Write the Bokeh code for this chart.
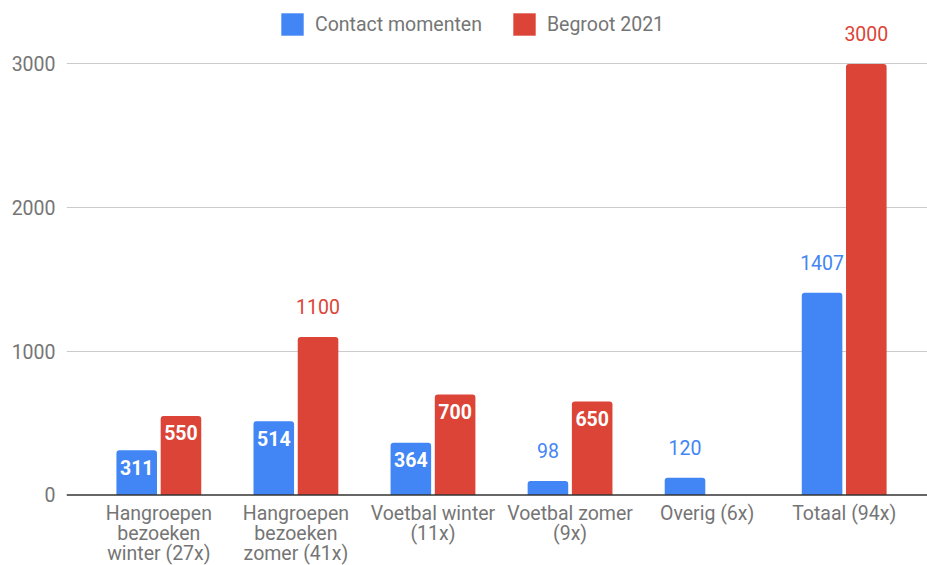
from bokeh.plotting import figure
from bokeh.models import ColumnDataSource, FixedTicker, Legend, LegendItem, Range1d, Span
from bokeh.core.properties import value
from bokeh.embed import file_html
from bokeh.resources import INLINE

# ---- data ----
categories = [
    "Hangroepen\nbezoeken\nwinter (27x)",
    "Hangroepen\nbezoeken\nzomer (41x)",
    "Voetbal winter\n(11x)",
    "Voetbal zomer\n(9x)",
    "Overig (6x)",
    "Totaal (94x)",
]
contact = [311, 514, 364, 98, 120, 1407]
begroot = [550, 1100, 700, 650, None, 3000]
series_names = ["Contact momenten", "Begroot 2021"]
y_ticks = [0, 1000, 2000, 3000]
# label placement (inside bar or above it)
contact_inside = [True, True, True, False, False, False]
begroot_inside = [True, False, True, True, False, False]

BLUE = "#4285F4"
RED = "#DB4437"
GRAY = "#757575"
FONT = "Roboto"
FS = "19.5px"
OFF = 0.1614
BW = 0.296

p = figure(width=927, height=565,
           x_range=Range1d(-0.6737, 5.6078), y_range=Range1d(-490.7, 3414),
           output_backend="svg", toolbar_location=None, x_axis_location=None,
           min_border_left=66, min_border_right=0, min_border_top=4, min_border_bottom=0)
p.outline_line_color = None

bars = {}
label_in = dict(x=[], y=[], text=[])
label_out = dict(x=[], y=[], text=[], color=[])
for name, vals, inside, off, color in [
    (series_names[0], contact, contact_inside, -OFF, BLUE),
    (series_names[1], begroot, begroot_inside, OFF, RED),
]:
    xs = [i + off for i, v in enumerate(vals) if v is not None]
    tops = [v for v in vals if v is not None]
    ins = [inside[i] for i, v in enumerate(vals) if v is not None]
    src = ColumnDataSource(dict(x=xs, top=tops))
    r = p.vbar(x="x", top="top", bottom=0, width=BW, source=src,
               fill_color=color, line_color=None, border_radius=(3, 3, 0, 0))
    bars[name] = r
    for x, t, k in zip(xs, tops, ins):
        if k:
            label_in["x"].append(x); label_in["y"].append(t); label_in["text"].append(str(t))
        else:
            label_out["x"].append(x); label_out["y"].append(t); label_out["text"].append(str(t))
            label_out["color"].append(color)

p.text(x="x", y="y", text="text", source=ColumnDataSource(label_in),
       text_color="white", text_align="center", text_baseline="middle",
       y_offset=17, text_font=value(FONT), text_font_size=FS, text_font_style="bold")
p.text(x="x", y="y", text="text", source=ColumnDataSource(label_out),
       text_color="color", text_align="center", text_baseline="middle",
       y_offset=-30, text_font=value(FONT), text_font_size=FS)

# category labels under the baseline
cat_src = ColumnDataSource(dict(x=list(range(len(categories))), y=[0] * len(categories), text=categories))
p.text(x="x", y="y", text="text", source=cat_src,
       text_color=GRAY, text_align="center", text_baseline="top",
       y_offset=7, text_font=value(FONT), text_font_size=FS, text_line_height=0.86)

# grid / baseline
p.xgrid.grid_line_color = None
p.ygrid.ticker = FixedTicker(ticks=y_ticks[1:])
p.ygrid.grid_line_color = "#cccccc"
p.ygrid.grid_line_width = 1
p.add_layout(Span(location=0, dimension="width", line_color="#333333", line_width=1.5))

p.yaxis.ticker = FixedTicker(ticks=y_ticks)
p.yaxis.axis_line_color = None
p.yaxis.major_tick_line_color = None
p.yaxis.minor_tick_line_color = None
p.yaxis.major_label_text_color = GRAY
p.yaxis.major_label_text_font = FONT
p.yaxis.major_label_text_font_size = FS
p.yaxis.major_label_standoff = 5

legend = Legend(items=[LegendItem(label=n, renderers=[bars[n]]) for n in series_names],
                orientation="horizontal", location=(212, 527),
                glyph_width=28, glyph_height=28, label_standoff=9, spacing=28,
                padding=0, margin=0, border_line_color=None, background_fill_alpha=0,
                label_text_font=FONT, label_text_font_size=FS, label_text_color=GRAY)
p.add_layout(legend)

open("out.html", "w").write(file_html(p, INLINE))
